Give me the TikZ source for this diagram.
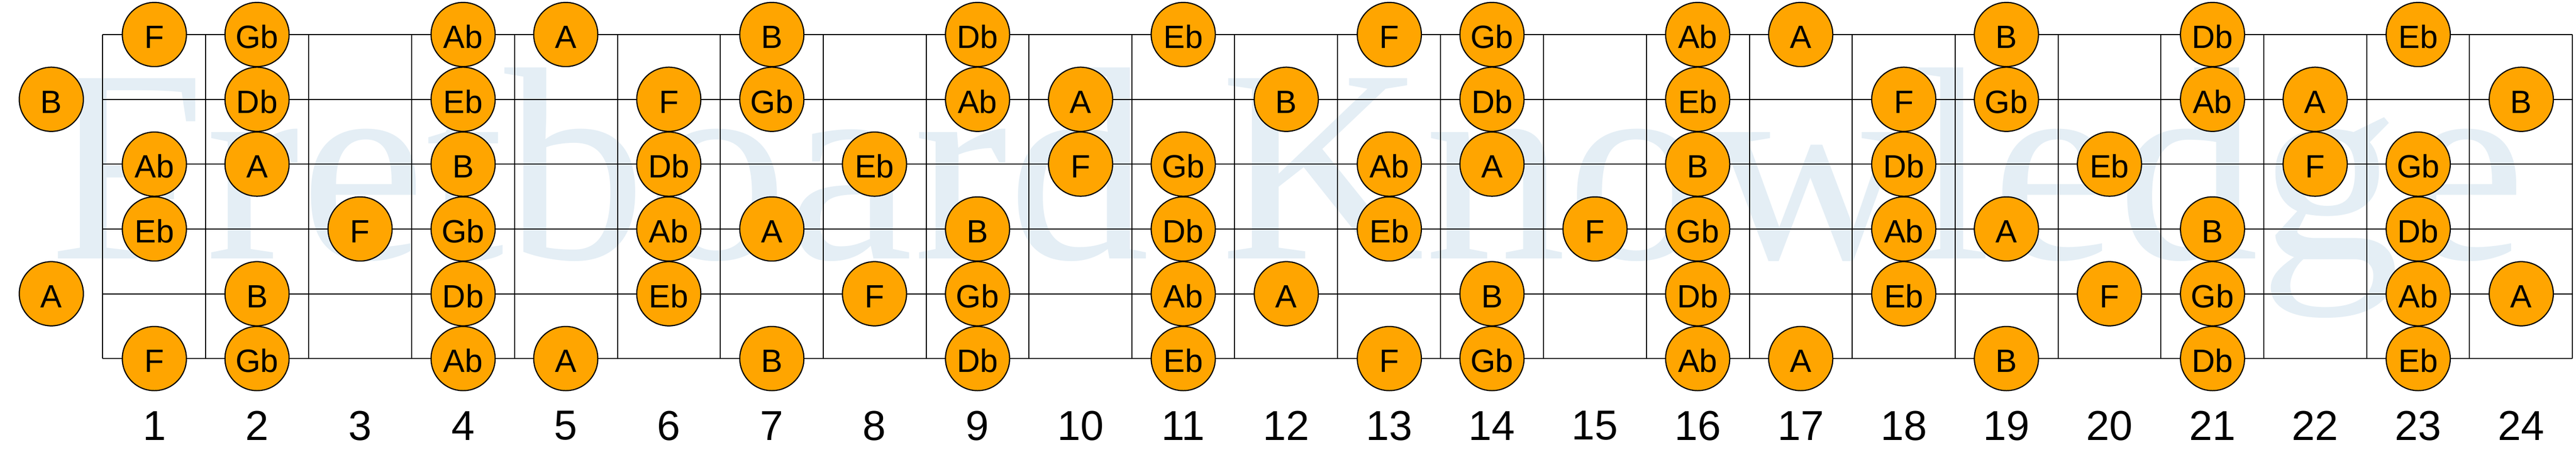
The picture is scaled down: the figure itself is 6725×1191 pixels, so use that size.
\documentclass[tikz,border=0pt]{standalone}
\usepackage{fontspec}
\setmainfont{Liberation Sans}
\newfontfamily\wmfont{Liberation Serif}
\usepackage{tikz}
\definecolor{noteorange}{RGB}{255,165,0}
\definecolor{wmblue}{RGB}{228,238,245}
\tikzset{
  notecirc/.style={circle,draw=black,line width=0.3pt,fill=noteorange,minimum size=16.74pt,inner sep=0pt,
    text height=7.2pt,text depth=0pt,font=\fontsize{8.4}{10}\selectfont},
  fretnum/.style={inner sep=0pt,font=\fontsize{10.9}{13}\selectfont},
  wmark/.style={inner sep=0pt,text=wmblue,font=\wmfont\fontsize{71.8}{80}\selectfont},
  fretline/.style={line width=0.27pt,draw=black}
}

\begin{document}
\begin{tikzpicture}[x=0.1pt,y=0.1pt,yscale=-1,xscale=1]
\path[use as bounding box] (0,0) rectangle (6725,1191);

% Watermark
\node[wmark,anchor=base west] (wm) at (123.6,674) {\scalebox{1.03}[1]{Fretboard Knowledge}};

%Shape: Strings
\draw[fretline] (268,90) -- (6716,90) (268,259) -- (6716,259) (268,428) -- (6716,428)
  (268,597) -- (6716,597) (268,766) -- (6716,766) (268,935) -- (6716,935) ;
%Shape: Frets
\draw[fretline] (268,90) -- (268,935) (537,90) -- (537,935) (806,90) -- (806,935) (1074,90) -- (1074,935)
  (1343,90) -- (1343,935) (1612,90) -- (1612,935) (1880,90) -- (1880,935) (2149,90) -- (2149,935)
  (2418,90) -- (2418,935) (2686,90) -- (2686,935) (2955,90) -- (2955,935) (3223,90) -- (3223,935)
  (3492,90) -- (3492,935) (3761,90) -- (3761,935) (4029,90) -- (4029,935) (4298,90) -- (4298,935)
  (4567,90) -- (4567,935) (4835,90) -- (4835,935) (5104,90) -- (5104,935) (5373,90) -- (5373,935)
  (5641,90) -- (5641,935) (5910,90) -- (5910,935) (6179,90) -- (6179,935) (6447,90) -- (6447,935)
  (6716,90) -- (6716,935) ;

% Text Node: string 1
\node[notecirc] (s1f1) at (403,90) {F};
\node[notecirc] (s1f2) at (671,90) {Gb};
\node[notecirc] (s1f4) at (1209,90) {Ab};
\node[notecirc] (s1f5) at (1477,90) {A};
\node[notecirc] (s1f7) at (2015,90) {B};
\node[notecirc] (s1f9) at (2552,90) {Db};
\node[notecirc] (s1f11) at (3089,90) {Eb};
\node[notecirc] (s1f13) at (3627,90) {F};
\node[notecirc] (s1f14) at (3895,90) {Gb};
\node[notecirc] (s1f16) at (4432,90) {Ab};
\node[notecirc] (s1f17) at (4701,90) {A};
\node[notecirc] (s1f19) at (5238,90) {B};
\node[notecirc] (s1f21) at (5776,90) {Db};
\node[notecirc] (s1f23) at (6313,90) {Eb};
% Text Node: string 2
\node[notecirc] (s2f0) at (134,259) {B};
\node[notecirc] (s2f2) at (671,259) {Db};
\node[notecirc] (s2f4) at (1209,259) {Eb};
\node[notecirc] (s2f6) at (1746,259) {F};
\node[notecirc] (s2f7) at (2015,259) {Gb};
\node[notecirc] (s2f9) at (2552,259) {Ab};
\node[notecirc] (s2f10) at (2821,259) {A};
\node[notecirc] (s2f12) at (3358,259) {B};
\node[notecirc] (s2f14) at (3895,259) {Db};
\node[notecirc] (s2f16) at (4432,259) {Eb};
\node[notecirc] (s2f18) at (4970,259) {F};
\node[notecirc] (s2f19) at (5238,259) {Gb};
\node[notecirc] (s2f21) at (5776,259) {Ab};
\node[notecirc] (s2f22) at (6044,259) {A};
\node[notecirc] (s2f24) at (6582,259) {B};
% Text Node: string 3
\node[notecirc] (s3f1) at (403,428) {Ab};
\node[notecirc] (s3f2) at (671,428) {A};
\node[notecirc] (s3f4) at (1209,428) {B};
\node[notecirc] (s3f6) at (1746,428) {Db};
\node[notecirc] (s3f8) at (2283,428) {Eb};
\node[notecirc] (s3f10) at (2821,428) {F};
\node[notecirc] (s3f11) at (3089,428) {Gb};
\node[notecirc] (s3f13) at (3627,428) {Ab};
\node[notecirc] (s3f14) at (3895,428) {A};
\node[notecirc] (s3f16) at (4432,428) {B};
\node[notecirc] (s3f18) at (4970,428) {Db};
\node[notecirc] (s3f20) at (5507,428) {Eb};
\node[notecirc] (s3f22) at (6044,428) {F};
\node[notecirc] (s3f23) at (6313,428) {Gb};
% Text Node: string 4
\node[notecirc] (s4f1) at (403,597) {Eb};
\node[notecirc] (s4f3) at (940,597) {F};
\node[notecirc] (s4f4) at (1209,597) {Gb};
\node[notecirc] (s4f6) at (1746,597) {Ab};
\node[notecirc] (s4f7) at (2015,597) {A};
\node[notecirc] (s4f9) at (2552,597) {B};
\node[notecirc] (s4f11) at (3089,597) {Db};
\node[notecirc] (s4f13) at (3627,597) {Eb};
\node[notecirc] (s4f15) at (4164,597) {F};
\node[notecirc] (s4f16) at (4432,597) {Gb};
\node[notecirc] (s4f18) at (4970,597) {Ab};
\node[notecirc] (s4f19) at (5238,597) {A};
\node[notecirc] (s4f21) at (5776,597) {B};
\node[notecirc] (s4f23) at (6313,597) {Db};
% Text Node: string 5
\node[notecirc] (s5f0) at (134,766) {A};
\node[notecirc] (s5f2) at (671,766) {B};
\node[notecirc] (s5f4) at (1209,766) {Db};
\node[notecirc] (s5f6) at (1746,766) {Eb};
\node[notecirc] (s5f8) at (2283,766) {F};
\node[notecirc] (s5f9) at (2552,766) {Gb};
\node[notecirc] (s5f11) at (3089,766) {Ab};
\node[notecirc] (s5f12) at (3358,766) {A};
\node[notecirc] (s5f14) at (3895,766) {B};
\node[notecirc] (s5f16) at (4432,766) {Db};
\node[notecirc] (s5f18) at (4970,766) {Eb};
\node[notecirc] (s5f20) at (5507,766) {F};
\node[notecirc] (s5f21) at (5776,766) {Gb};
\node[notecirc] (s5f23) at (6313,766) {Ab};
\node[notecirc] (s5f24) at (6582,766) {A};
% Text Node: string 6
\node[notecirc] (s6f1) at (403,935) {F};
\node[notecirc] (s6f2) at (671,935) {Gb};
\node[notecirc] (s6f4) at (1209,935) {Ab};
\node[notecirc] (s6f5) at (1477,935) {A};
\node[notecirc] (s6f7) at (2015,935) {B};
\node[notecirc] (s6f9) at (2552,935) {Db};
\node[notecirc] (s6f11) at (3089,935) {Eb};
\node[notecirc] (s6f13) at (3627,935) {F};
\node[notecirc] (s6f14) at (3895,935) {Gb};
\node[notecirc] (s6f16) at (4432,935) {Ab};
\node[notecirc] (s6f17) at (4701,935) {A};
\node[notecirc] (s6f19) at (5238,935) {B};
\node[notecirc] (s6f21) at (5776,935) {Db};
\node[notecirc] (s6f23) at (6313,935) {Eb};

% Text Node: fret numbers
\node[fretnum] (n1) at (403,1110) {1};
\node[fretnum] (n2) at (671,1110) {2};
\node[fretnum] (n3) at (940,1110) {3};
\node[fretnum] (n4) at (1209,1110) {4};
\node[fretnum] (n5) at (1477,1110) {5};
\node[fretnum] (n6) at (1746,1110) {6};
\node[fretnum] (n7) at (2015,1110) {7};
\node[fretnum] (n8) at (2283,1110) {8};
\node[fretnum] (n9) at (2552,1110) {9};
\node[fretnum] (n10) at (2821,1110) {10};
\node[fretnum] (n11) at (3089,1110) {11};
\node[fretnum] (n12) at (3358,1110) {12};
\node[fretnum] (n13) at (3627,1110) {13};
\node[fretnum] (n14) at (3895,1110) {14};
\node[fretnum] (n15) at (4164,1110) {15};
\node[fretnum] (n16) at (4432,1110) {16};
\node[fretnum] (n17) at (4701,1110) {17};
\node[fretnum] (n18) at (4970,1110) {18};
\node[fretnum] (n19) at (5238,1110) {19};
\node[fretnum] (n20) at (5507,1110) {20};
\node[fretnum] (n21) at (5776,1110) {21};
\node[fretnum] (n22) at (6044,1110) {22};
\node[fretnum] (n23) at (6313,1110) {23};
\node[fretnum] (n24) at (6582,1110) {24};

\end{tikzpicture}
\end{document}
